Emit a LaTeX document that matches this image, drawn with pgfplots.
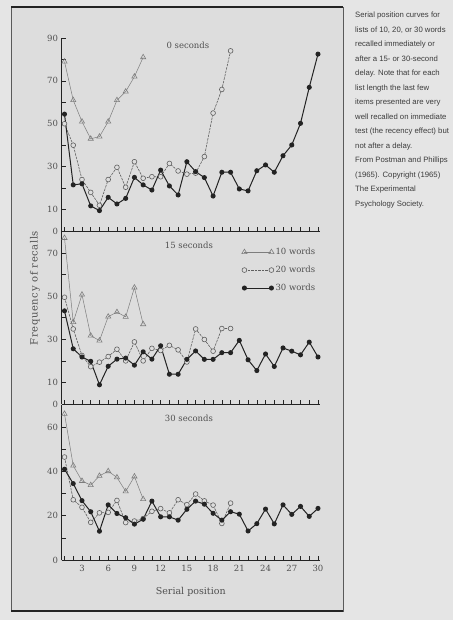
\documentclass[border=0pt]{standalone}
\usepackage{fontspec}
\setmainfont{DejaVu Serif}
\newfontfamily\capfont{Liberation Sans}
\usepackage{pgfplots}
\pgfplotsset{compat=1.18}
\definecolor{bg}{RGB}{221,221,221}
\definecolor{bgout}{RGB}{229,229,229}
\definecolor{ink}{RGB}{35,35,35}
\definecolor{tri}{RGB}{125,125,125}
\definecolor{circ}{RGB}{95,95,95}
\definecolor{txt}{RGB}{80,80,80}
\definecolor{captxt}{RGB}{60,60,60}
\definecolor{frame}{RGB}{90,90,90}

\tikzset{ptitle/.style={font=\fontsize{8.5}{10}\selectfont, text=txt}}
\pgfplotsset{
  panel/.style={
    scale only axis, width=258.5pt,
    xmin=0.657, xmax=30.23, ymin=0,
    anchor=south west,
    axis x line*=bottom, axis y line*=left,
    axis line style={ink, line width=0.8pt, -},
    tick align=inside,
    major tick length=4pt, minor tick length=4pt,
    xtick={3,6,...,30}, minor xtick={1,...,30},
    tick style={ink, line width=0.6pt},
    tick label style={font=\fontsize{8.5}{10}\selectfont, text=txt},
    /pgf/number format/assume math mode=true,
    clip=false,
  },
  w10/.style={tri, line width=0.5pt, mark=triangle, mark size=3pt,
    mark options={solid, fill=bg, draw=tri, line width=0.6pt}},
  w20/.style={circ, line width=0.6pt, dash pattern=on 2.5pt off 1pt, mark=*, mark size=2.4pt,
    mark options={solid, fill=bg, draw=circ, line width=0.6pt}},
  w30/.style={ink, line width=1pt, mark=*, mark size=2pt,
    mark options={solid, fill=ink, draw=ink}},
}

\begin{document}
\begin{tikzpicture}[x=1pt,y=1pt]
\useasboundingbox (0,0) rectangle (453,620);
\fill[bgout] (0,0) rectangle (453,620);
\fill[bg] (11,9) rectangle (343,613);
\draw[frame, line width=0.8pt] (11,9) rectangle (343,613);
\draw[ink, line width=1.8pt] (11,613) -- (343,613);
\draw[ink, line width=1.4pt] (11,9) -- (343,9);

% ---------- top panel: 0 seconds ----------
\begin{axis}[panel, at={(61.5pt,389pt)}, height=193pt, ymax=90,
  xticklabels={},
  ytick={0,10,30,50,70,90}, minor ytick={20,40,60,80}]
\addplot[w10] coordinates {(1,79)(2,61)(3,51)(4,43)(5,44)(6,51)(7,61)(8,65)(9,72)(10,81)};
\addplot[w20] coordinates {(1,50)(2,40)(3,24)(4,18)(5,12)(6,24)(7,29.7)(8,20.4)(9,32.3)(10,24.6)
 (11,25.3)(12,25.3)(13,31.5)(14,28)(15,26.5)(16,27)(17,34.7)(18,55)(19,66)(20,84)};
\addplot[w30] coordinates {(1,54.5)(2,21.5)(3,22)(4,11.7)(5,9.5)(6,15.7)(7,12.6)(8,15.2)(9,25)(10,21.5)
 (11,19.1)(12,28.4)(13,21)(14,16.8)(15,32.3)(16,27.7)(17,24.9)(18,16.3)(19,27.4)(20,27.4)
 (21,19.6)(22,18.7)(23,28.1)(24,30.8)(25,27.4)(26,35.1)(27,40.1)(28,50.2)(29,67)(30,82.5)};
\node[ptitle] at (rel axis cs:0.489,0.964) {0 seconds};
\end{axis}

% ---------- middle panel: 15 seconds ----------
\begin{axis}[panel, at={(61.5pt,216pt)}, height=172.5pt, ymax=80,
  xticklabels={},
  ytick={0,10,30,50,70}, minor ytick={20,40,60},
  legend style={at={(1.0,0.925)}, anchor=north east, draw=none, fill=none,
    font=\fontsize{8.5}{10}\selectfont, text=txt, row sep=7pt,
    nodes={inner sep=1.5pt}},
  legend cell align=left,
  legend image code/.code={\draw[#1] plot coordinates {(0pt,0pt) (27pt,0pt)};}]
\addplot[w10] coordinates {(1,77)(2,38)(3,50.7)(4,31.7)(5,29.4)(6,40.5)(7,42.6)(8,40.4)(9,54)(10,37)};
\addlegendentry{10 words}
\addplot[w20] coordinates {(1,49.5)(2,34.8)(3,22.5)(4,17.3)(5,19.4)(6,22)(7,25.4)(8,20)(9,28.8)(10,20)
 (11,25.8)(12,24.8)(13,27.2)(14,25.1)(15,19.5)(16,34.8)(17,29.9)(18,24.5)(19,35)(20,35)};
\addlegendentry{20 words}
\addplot[w30] coordinates {(1,43.2)(2,25.6)(3,21.8)(4,19.8)(5,8.9)(6,17.5)(7,20.8)(8,21.3)(9,18)(10,24.2)
 (11,20.8)(12,27)(13,13.8)(14,13.8)(15,20.7)(16,24.6)(17,20.7)(18,20.7)(19,23.8)(20,23.8)
 (21,29.5)(22,20.5)(23,15.5)(24,23.2)(25,17.4)(26,26)(27,24.5)(28,22.8)(29,28.7)(30,21.8)};
\addlegendentry{30 words}
\node[ptitle] at (rel axis cs:0.493,0.922) {15 seconds};
\end{axis}

% ---------- bottom panel: 30 seconds ----------
\begin{axis}[panel, at={(61.5pt,60pt)}, height=155pt, ymax=70,
  ytick={0,20,40,60}, minor ytick={10,30,50},
  xlabel={Serial position},
  xlabel style={font=\fontsize{9.5}{11}\selectfont, text=txt, yshift=-8pt},
  xticklabel style={yshift=-2pt}]
\addplot[w10] coordinates {(1,66)(2,42.6)(3,35.7)(4,33.8)(5,38)(6,40.1)(7,37.3)(8,31)(9,37.7)(10,27.5)};
\addplot[w20] coordinates {(1,46.5)(2,27.2)(3,23.8)(4,17)(5,21.3)(6,21.5)(7,26.9)(8,16.9)(9,17.6)(10,18.7)
 (11,22)(12,23.2)(13,21.3)(14,27.2)(15,25)(16,29.8)(17,26.7)(18,24.8)(19,16.5)(20,25.7)};
\addplot[w30] coordinates {(1,41)(2,34.5)(3,26.8)(4,21.8)(5,13)(6,24.9)(7,21)(8,19.1)(9,16.2)(10,18.4)
 (11,26.6)(12,19.5)(13,19.5)(14,18)(15,22.9)(16,26.6)(17,25.2)(18,21.1)(19,18)(20,21.8)
 (21,20.7)(22,13.1)(23,16.4)(24,23)(25,16.3)(26,24.9)(27,20.6)(28,24.2)(29,19.7)(30,23.3)};
\node[ptitle] at (rel axis cs:0.493,0.916) {30 seconds};
\end{axis}

\node[rotate=90, font=\fontsize{10}{12}\selectfont\addfontfeatures{LetterSpace=6}, text=txt] at (35,332) {Frequency of recalls};

\node[anchor=north west, align=left, inner sep=0pt, text=captxt,
  font=\capfont\fontsize{7.75}{14.5}\selectfont] at (355,608) {Serial position curves for\\
lists of 10, 20, or 30 words\\
recalled immediately or\\
after a 15- or 30-second\\
delay. Note that for each\\
list length the last few\\
items presented are very\\
well recalled on immediate\\
test (the recency effect) but\\
not after a delay.\\
From Postman and Phillips\\
(1965). Copyright (1965)\\
The Experimental\\
Psychology Society.};
\end{tikzpicture}
\end{document}
